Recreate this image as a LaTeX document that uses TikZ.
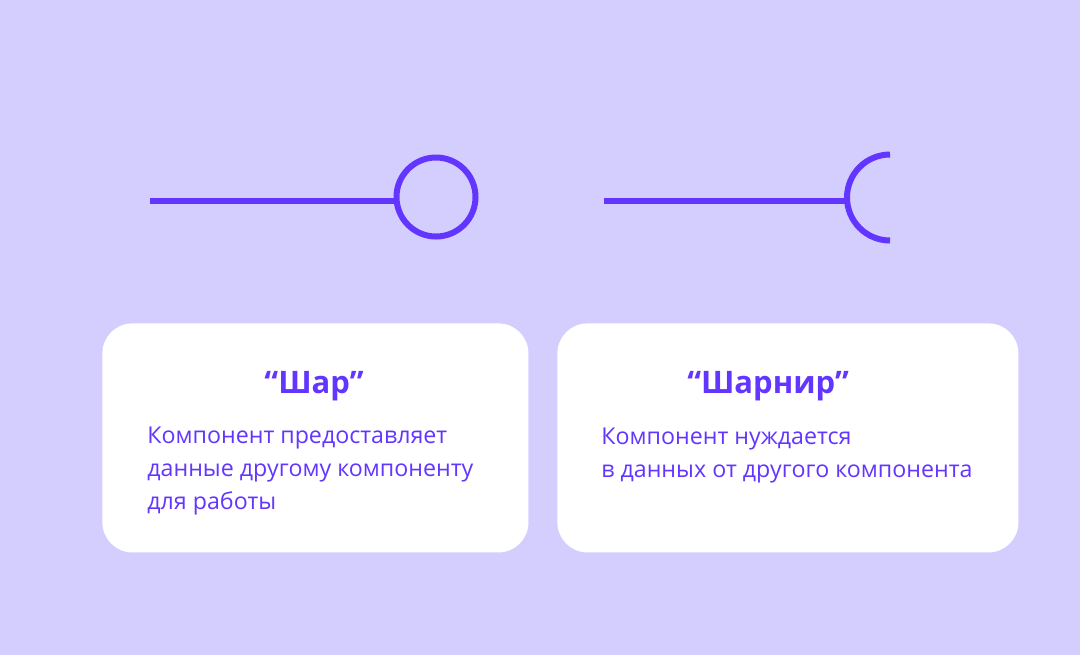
\documentclass[tikz,border=0pt]{standalone}
\usepackage{fontspec}
\setmainfont{Open Sans}
\usetikzlibrary{positioning}
\definecolor{bgviolet}{RGB}{212,206,255}
\definecolor{plum}{RGB}{98,54,255}
\tikzset{
  card/.style={fill=white, draw=none, rounded corners=15pt, inner sep=0pt, anchor=north west, minimum height=114.5pt},
  wire/.style={draw=plum, line width=3pt},
  heading/.style={font=\fontsize{15.5}{18}\selectfont\bfseries, text=plum, inner sep=0pt, anchor=base},
  desc/.style={font=\fontsize{11.6}{16.3}\selectfont, text=plum, align=left, inner sep=0pt, anchor=north west},
}

\begin{document}
\begin{tikzpicture}[x=0.5pt,y=-0.5pt]
% background
\fill[bgviolet] (0,0) rectangle (1080,655);
% cards
\node[card, minimum width=213pt] (ballcard) at (102,323) {};
\node[card, minimum width=230.5pt] (socketcard) at (557,323) {};
% symbols
\node[circle, wire, minimum size=39.5pt, inner sep=0pt] (ball) at (436,197) {};
\coordinate (ballstart) at (150,201);
\coordinate (cuptop) at (890,154.5);
\coordinate (sockstart) at (604,201);
\coordinate (cupleft) at (847,201);
% edges
\draw[wire] (ballstart) -- (ballstart -| ball.west);
\draw[wire] (sockstart) -- (cupleft);
\draw[wire] (cuptop) arc[start angle=90, end angle=270, radius=21.5pt];
% texts
\node[heading] (balltitle) at (314,393) {“Шар”};
\node[heading] (sockettitle) at (768,393) {“Шарнир”};
\node[desc] (balltext) at (147,427) {Компонент предоставляет\\данные другому компоненту\\для работы};
\node[desc] (sockettext) at (601,428) {Компонент нуждается\\в данных от другого компонента};
\end{tikzpicture}
\end{document}
